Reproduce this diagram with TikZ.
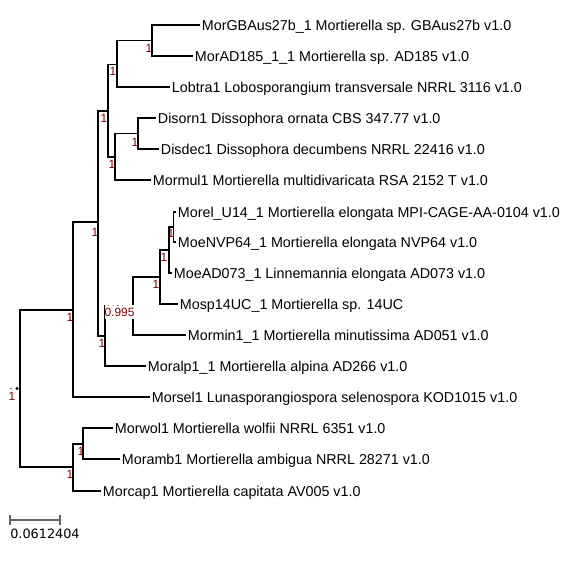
\documentclass[tikz,border=0pt]{standalone}
\usepackage{fontspec}
\setmainfont{Liberation Sans}
\newfontfamily\barfont{DejaVu Sans}
\definecolor{supred}{RGB}{128,0,0}
\definecolor{bargray}{RGB}{100,100,100}
\begin{document}
\begin{tikzpicture}[x=0.02cm,y=-0.02cm,line width=1pt]
\tikzstyle{leaf}=[anchor=west,inner xsep=0.6pt,inner ysep=0pt,text height=5.8pt,text depth=0pt,font=\fontsize{8.15}{9}\selectfont]
\tikzstyle{supp}=[text=supred,inner sep=0pt,font=\fontsize{6.8}{7}\selectfont]
\tikzstyle{branch}=[black]
\useasboundingbox (0,0) rectangle (566,566);
\coordinate (root) at (20,389);
\coordinate (nA) at (73,310);
\coordinate (nB) at (98,222);
\coordinate (nC) at (108,111);
\coordinate (nE) at (117,64.5);
\coordinate (nG) at (152,40.5);
\coordinate (nF) at (115,157);
\coordinate (nH) at (138,133.5);
\coordinate (nD) at (105,336);
\coordinate (nI) at (133,306);
\coordinate (nJ) at (160,277);
\coordinate (nK) at (169,250);
\coordinate (nL) at (173.5,227);
\coordinate (nM) at (73,467);
\coordinate (nN) at (83,444);
\node[leaf](GB) at (200,25) {MorGBAus27b\_1 Mortierella sp. GBAus27b v1.0};
\node[leaf](AD185) at (193,56) {MorAD185\_1\_1 Mortierella sp. AD185 v1.0};
\node[leaf](Lobtra) at (170,87) {Lobtra1 Lobosporangium transversale NRRL 3116 v1.0};
\node[leaf](Disorn) at (156,118) {Disorn1 Dissophora ornata CBS 347.77 v1.0};
\node[leaf](Disdec) at (159,149) {Disdec1 Dissophora decumbens NRRL 22416 v1.0};
\node[leaf](Mormul) at (151,180) {Mormul1 Mortierella multidivaricata RSA 2152 T v1.0};
\node[leaf](Morel) at (176,212) {Morel\_U14\_1 Mortierella elongata MPI-CAGE-AA-0104 v1.0};
\node[leaf](MoeNVP) at (176,242) {MoeNVP64\_1 Mortierella elongata NVP64 v1.0};
\node[leaf](MoeAD) at (172,273) {MoeAD073\_1 Linnemannia elongata AD073 v1.0};
\node[leaf](Mosp) at (178,304) {Mosp14UC\_1 Mortierella sp. 14UC};
\node[leaf](Mormin) at (186,335) {Mormin1\_1 Mortierella minutissima AD051 v1.0};
\node[leaf](Moralp) at (146,366) {Moralp1\_1 Mortierella alpina AD266 v1.0};
\node[leaf](Morsel) at (150,397) {Morsel1 Lunasporangiospora selenospora KOD1015 v1.0};
\node[leaf](Morwol) at (113,428) {Morwol1 Mortierella wolfii NRRL 6351 v1.0};
\node[leaf](Moramb) at (120,459) {Moramb1 Mortierella ambigua NRRL 28271 v1.0};
\node[leaf](Morcap) at (101,491) {Morcap1 Mortierella capitata AV005 v1.0};

\draw[branch] (root) |- (nA);
\draw[branch] (root) |- (nM);
\draw[branch] (nA) |- (nB);
\draw[branch] (nA) |- (Morsel.west);
\draw[branch] (nB) |- (nC);
\draw[branch] (nB) |- (nD);
\draw[branch] (nC) |- (nE);
\draw[branch] (nC) |- (nF);
\draw[branch] (nE) |- (nG);
\draw[branch] (nE) |- (Lobtra.west);
\draw[branch] (nG) |- (GB.west);
\draw[branch] (nG) |- (AD185.west);
\draw[branch] (nF) |- (nH);
\draw[branch] (nF) |- (Mormul.west);
\draw[branch] (nH) |- (Disorn.west);
\draw[branch] (nH) |- (Disdec.west);
\draw[branch] (nD) |- (nI);
\draw[branch] (nD) |- (Moralp.west);
\draw[branch] (nI) |- (nJ);
\draw[branch] (nI) |- (Mormin.west);
\draw[branch] (nJ) |- (nK);
\draw[branch] (nJ) |- (Mosp.west);
\draw[branch] (nK) |- (nL);
\draw[branch] (nK) |- (MoeAD.west);
\draw[branch] (nL) |- (Morel.west);
\draw[branch] (nL) |- (MoeNVP.west);
\draw[branch] (nM) |- (nN);
\draw[branch] (nM) |- (Morcap.west);
\draw[branch] (nN) |- (Morwol.west);
\draw[branch] (nN) |- (Moramb.west);

\node[supp](sG) at (149,48) {1};
\node[supp](sE) at (113,71) {1};
\node[supp](sC) at (104,118) {1};
\node[supp](sH) at (135,142) {1};
\node[supp](sF) at (112,164) {1};
\node[supp](sB) at (95,232) {1};
\node[supp](sL) at (171,233) {1};
\node[supp](sK) at (164,257) {1};
\node[supp](sJ) at (156,284) {1};
\node[supp,fill=white,inner xsep=0pt,inner ysep=1.6pt](sI) at (119.5,312) {0.995};
\node[supp](sD) at (102,343) {1};
\node[supp](sA) at (70,317) {1};
\node[supp](sR) at (12,396) {1};
\node[supp](sM) at (70,474) {1};
\node[supp](sN) at (81,451) {1};
\draw[gray,dotted,line width=0.7pt] (108,305.5) -- (124,305.5);
\fill[black] (17,388.5) circle (1.6);
\fill[gray] (11,388.5) circle (1.2);

\draw[bargray,line width=0.9pt] (10,515) -- (10,525) (10,520) -- (60,520) (60,515) -- (60,525);
\node[inner sep=0pt,font=\barfont\fontsize{7.3}{8}\selectfont](scale) at (45,534) {0.0612404};
\end{tikzpicture}
\end{document}
